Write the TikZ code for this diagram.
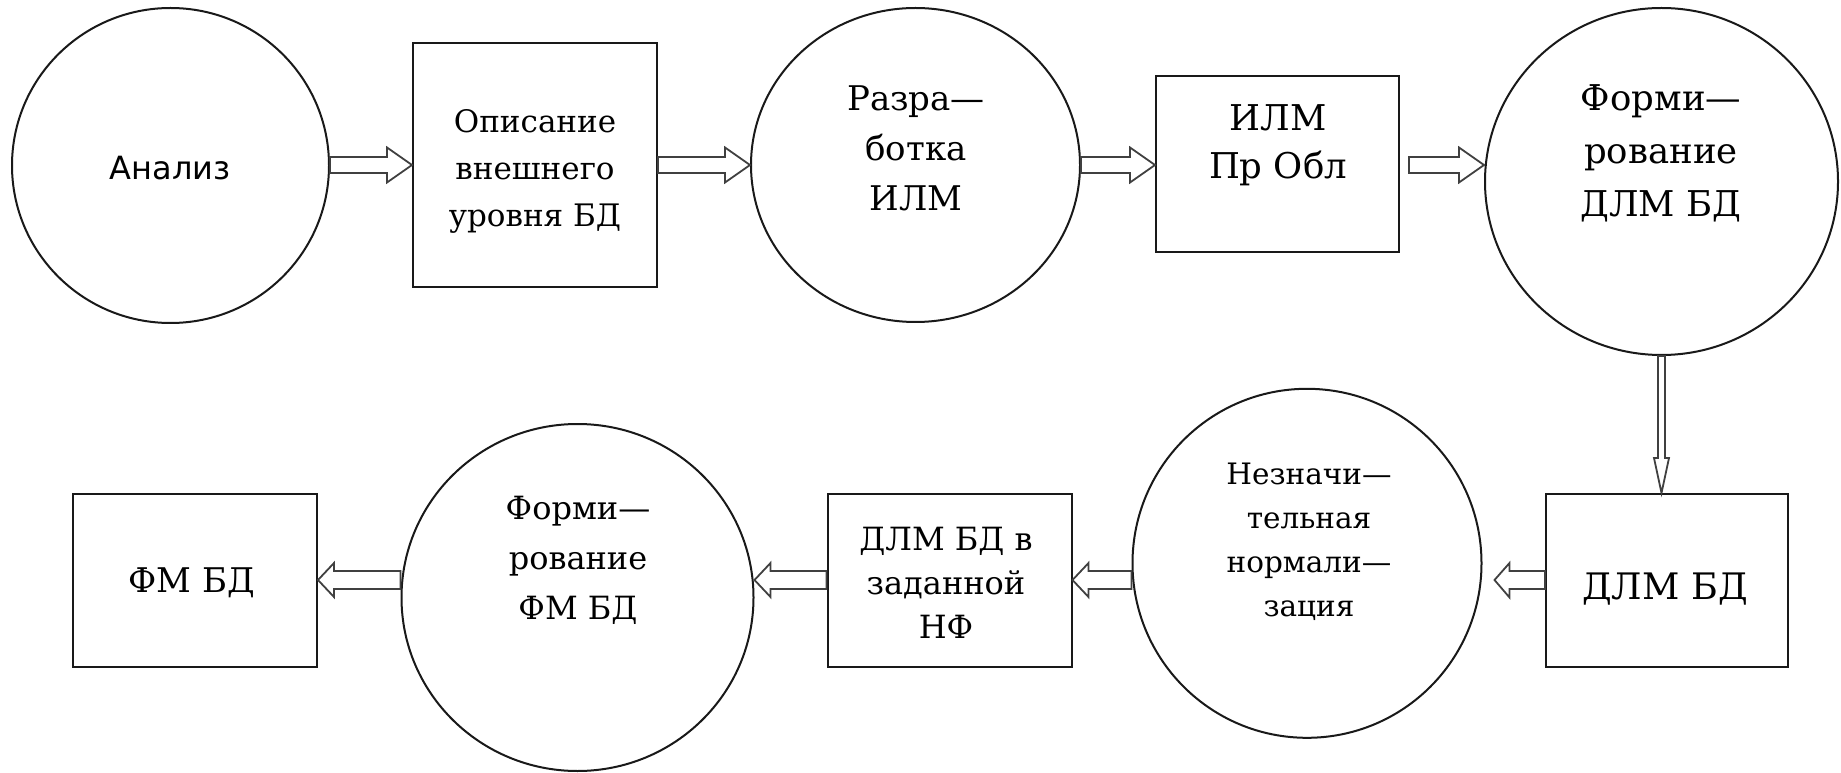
\documentclass[tikz,border=0pt]{standalone}
\usepackage{fontspec}
\setmainfont{DejaVu Serif}
\newfontfamily\serifx{DejaVu Serif}
\newfontfamily\anfont{DejaVu Sans}
\usetikzlibrary{calc,shapes.geometric}
\newcommand\harr[6]{\draw[hol] let \p1=(#1),\p2=(#2) in ({\x1},{#3pt+#4pt}) -- ({\x2-(#6pt)},{#3pt+#4pt}) -- ({\x2-(#6pt)},{#3pt+#5pt}) -- ({\x2},{#3pt}) -- ({\x2-(#6pt)},{#3pt-#5pt}) -- ({\x2-(#6pt)},{#3pt-#4pt}) -- ({\x1},{#3pt-#4pt}) -- cycle;}
\newcommand\varr[5]{\draw[hol] let \p1=(#1),\p2=(#2) in ({\x1-#3pt},{\y1}) -- ({\x1-#3pt},{\y2+#5pt}) -- ({\x1-#4pt},{\y2+#5pt}) -- ({\x1},{\y2}) -- ({\x1+#4pt},{\y2+#5pt}) -- ({\x1+#3pt},{\y2+#5pt}) -- ({\x1+#3pt},{\y1}) -- cycle;}
\begin{document}
\begin{tikzpicture}[x=1pt,y=1pt,
 shp/.style={draw=black!90,line width=2pt,inner sep=0pt},
 boxs/.style={shp,rectangle},
 ell/.style={shp,ellipse},
 hol/.style={draw=black!75,line width=1.8pt,line join=miter},
 txt/.style={align=center,inner sep=0pt,text=black}]
\useasboundingbox (0,0) rectangle (1841,772);
% shapes
\node[ell,minimum width=317pt,minimum height=315pt] (c1) at (170.5,606.5) {};
\node[boxs,minimum width=244pt,minimum height=244pt] (b1) at (535,606.7) {};
\node[ell,minimum width=329pt,minimum height=314pt] (c2) at (915.5,607) {};
\node[boxs,minimum width=243pt,minimum height=176pt] (b2) at (1277.5,607.5) {};
\node[ell,minimum width=353pt,minimum height=347pt] (c3) at (1661.5,590.5) {};
\node[boxs,minimum width=242pt,minimum height=173pt] (b3) at (1667,191.5) {};
\node[ell,minimum width=349pt,minimum height=349pt] (c5) at (1307,208.7) {};
\node[boxs,minimum width=244pt,minimum height=173pt] (b4) at (949.5,191.5) {};
\node[ell,minimum width=352pt,minimum height=347pt] (c4) at (577.5,174.5) {};
\node[boxs,minimum width=244pt,minimum height=173pt] (b5) at (195,191.5) {};
% texts
\node[txt,font=\anfont\fontsize{32}{38}\selectfont] (t1) at (170,604) {Анализ};
\node[txt,font=\serifx\fontsize{31}{47}\selectfont] (t2) at (535,601) {Описание\\внешнего\\уровня БД};
\node[txt,font=\serifx\fontsize{34}{50}\selectfont] (t3) at (916,624) {Разра—\\ботка\\ИЛМ};
\node[txt,font=\serifx\fontsize{35.5}{48}\selectfont] (t4) at (1278,627) {ИЛМ\\Пр Обл};
\node[txt,font=\serifx\fontsize{35.5}{53}\selectfont] (t5) at (1661,619) {Форми—\\рование\\ДЛМ БД};
\node[txt,font=\serifx\fontsize{36.5}{48}\selectfont] (t6) at (1665,183) {ДЛМ БД};
\node[txt,font=\serifx\fontsize{29.5}{44}\selectfont] (t7) at (1309,230) {Незначи—\\тельная\\нормали—\\зация};
\node[txt,font=\serifx\fontsize{32}{44}\selectfont] (t8) at (946,189) {ДЛМ БД в\\заданной\\НФ};
\node[txt,font=\serifx\fontsize{32}{50}\selectfont] (t9) at (578,212) {Форми—\\рование\\ФМ БД};
\node[txt,font=\serifx\fontsize{34}{46}\selectfont] (t10) at (192,189) {ФМ БД};
% arrows
\harr{c1.east}{b1.west}{607}{8}{17.5}{25}
\harr{b1.east}{c2.west}{607}{8}{17.5}{25}
\harr{c2.east}{b2.west}{607}{8}{17.5}{25}
\draw[hol] let \p1=(b2.east),\p2=(c3.west) in ({\x1+9pt},615) -- ({\x2-25pt},615) -- ({\x2-25pt},624.5) -- ({\x2},607) -- ({\x2-25pt},589.5) -- ({\x2-25pt},599) -- ({\x1+9pt},599) -- cycle;
\varr{c3.south}{b3.north}{3.5}{7.5}{35}
\draw[hol] let \p1=(b3.west),\p2=(c5.east) in ({\x1},201) -- ({\x2+27pt},201) -- ({\x2+27pt},209) -- ({\x2+12pt},192) -- ({\x2+27pt},174.5) -- ({\x2+27pt},183) -- ({\x1},183) -- cycle;
\harr{c5.west}{b4.east}{192}{9}{17}{-16}
\harr{b4.west}{c4.east}{192}{9}{17}{-16}
\harr{c4.west}{b5.east}{192}{9}{17}{-16}
\end{tikzpicture}
\end{document}
